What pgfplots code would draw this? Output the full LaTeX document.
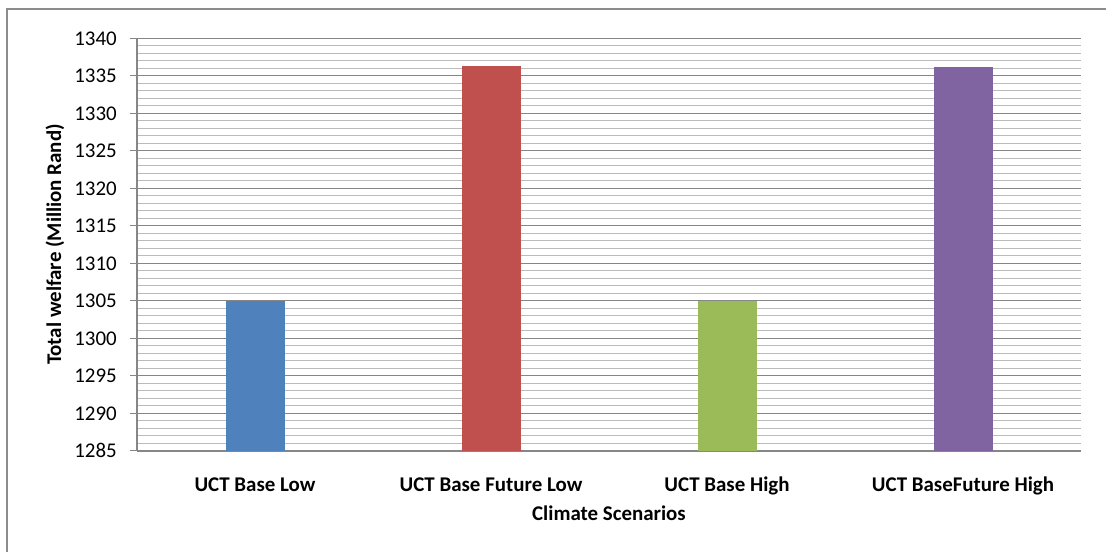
\documentclass[border=0pt]{standalone}
\usepackage{fontspec}
\setmainfont{Carlito}
\usepackage{pgfplots}
\pgfplotsset{compat=1.18}
\definecolor{barblue}{HTML}{4F81BD}
\definecolor{barred}{HTML}{C0504D}
\definecolor{bargreen}{HTML}{9BBB59}
\definecolor{barpurple}{HTML}{8064A2}
\definecolor{gridmaj}{HTML}{868686}
\definecolor{gridmin}{HTML}{BBBBBB}
\definecolor{framegray}{HTML}{8C8C8C}

\begin{document}
\begin{tikzpicture}[x=1bp,y=1bp]
\useasboundingbox (0,0) rectangle (1106,552);
% chart area frame (only top and left edges show)
\draw[framegray, line width=1.2bp] (7,0) -- (7,543) -- (1106,543);
\begin{axis}[
    scale only axis,
    width=944bp, height=412.5bp,
    at={(137bp,101.2bp)}, anchor=south west,
    xmin=-0.5, xmax=3.5,
    ymin=1285, ymax=1340,
    ytick={1285,1290,...,1340},
    minor y tick num=4,
    ymajorgrids, yminorgrids,
    major grid style={gridmaj, line width=1.3bp},
    minor grid style={gridmin, line width=1.3bp},
    axis lines=left,
    axis line style={-, gridmaj, line width=1.5bp},
    xtick={0,1,2,3},
    xticklabels={UCT Base Low, UCT Base Future Low, UCT Base High, UCT BaseFuture High},
    xtick style={draw=none},
    ytick style={gridmaj, line width=1.3bp},
    tick align=outside,
    major tick length=7bp,
    minor tick length=0pt,
    /pgf/number format/1000 sep={},
    /pgf/number format/assume math mode=true,
    yticklabel style={font=\fontsize{21}{25}\selectfont, anchor=east, inner sep=0pt, xshift=-13bp},
    xticklabel style={font=\fontsize{21}{25}\selectfont\bfseries, anchor=base, inner sep=0pt, yshift=-34bp},
    xlabel={Climate Scenarios},
    ylabel={Total welfare (Million Rand)},
    xlabel style={font=\fontsize{21}{25}\selectfont\bfseries, inner sep=0pt, at={(axis description cs:0.5,-0.1678)}, anchor=base},
    ylabel style={font=\fontsize{21}{25}\selectfont\bfseries, at={(axis description cs:-0.0869,0.5)}, anchor=center},
    ybar, bar width=59bp, bar shift=0pt,
    clip=true,
]
\addplot[fill=barblue, draw=none] coordinates {(0,1305.0)};
\addplot[fill=barred, draw=none] coordinates {(1,1336.33)};
\addplot[fill=bargreen, draw=none] coordinates {(2,1305.0)};
\addplot[fill=barpurple, draw=none] coordinates {(3,1336.2)};
\end{axis}
\end{tikzpicture}
\end{document}
